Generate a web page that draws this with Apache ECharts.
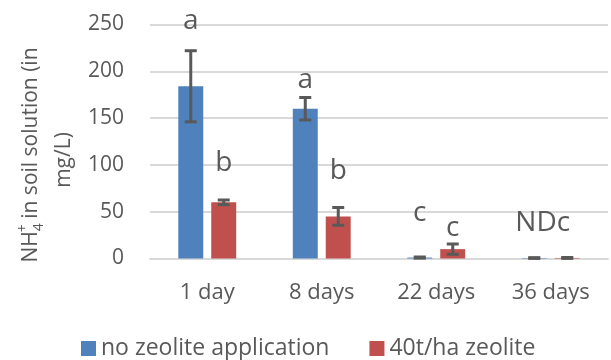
<!DOCTYPE html>
<html>
<head>
<meta charset="utf-8">
<script src="https://cdn.jsdelivr.net/npm/echarts@6/dist/echarts.min.js"></script>
<style>
  html, body { margin: 0; padding: 0; background: #ffffff; }
  #chart { width: 611px; height: 360px; }
</style>
</head>
<body>
<div id="chart"></div>
<script>
// Sampling days after application
const categories = ['1 day', '8 days', '22 days', '36 days'];

// Mean NH4+ concentration (mg/L) and standard error, per treatment
const noZeolite = [184, 160, 1, 0.5];
const noZeoliteErr = [38, 12, 0.6, 0.4];
const zeolite40 = [60, 45, 10, 0.6];
const zeolite40Err = [2.5, 9.5, 5.5, 0.5];

// Significance letters: [day index, treatment (-1 none, +1 40t/ha, 0 shared), level, text]
const letters = [
  [0, -1, 254, 'a'],
  [0, 1, 102, 'b'],
  [1, -1, 191, 'a'],
  [1, 1, 93, 'b'],
  [2, -1, 49, 'c'],
  [2, 1, 33, 'c'],
  [3, 0, 38, 'NDc']
];

const yTicks = { min: 0, max: 250, interval: 50 };

const FONT = '"Open Sans"';
const TEXT = '#595959';
const BLUE = '#4f81bd';
const RED = '#c0504d';
const BAR_FRAC = 0.218;   // bar width as share of category band
const SHIFT_FRAC = 0.144; // bar centre shift from band centre

function errorBarSeries(values, errs, dir) {
  return {
    type: 'custom',
    silent: true,
    z: 5,
    data: values.map((v, i) => [i, v - errs[i], v + errs[i]]),
    renderItem: function (params, api) {
      const band = api.size([1, 0])[0];
      const dx = dir * band * SHIFT_FRAC;
      const lo = api.coord([api.value(0), api.value(1)]);
      const hi = api.coord([api.value(0), api.value(2)]);
      const x = lo[0] + dx;
      const half = 6;
      const style = { stroke: '#595959', lineWidth: 3 };
      return {
        type: 'group',
        children: [
          { type: 'line', shape: { x1: x, y1: lo[1], x2: x, y2: hi[1] }, style: style },
          { type: 'line', shape: { x1: x - half, y1: lo[1], x2: x + half, y2: lo[1] }, style: style },
          { type: 'line', shape: { x1: x - half, y1: hi[1], x2: x + half, y2: hi[1] }, style: style }
        ]
      };
    }
  };
}

const chart = echarts.init(document.getElementById('chart'), null, { renderer: 'canvas' });

chart.setOption({
  animation: false,
  backgroundColor: '#ffffff',
  textStyle: { fontFamily: FONT, color: TEXT },
  grid: { left: 150, right: 3, top: 24.5, bottom: 101.5, containLabel: false },
  legend: {
    left: 76,
    top: 332,
    itemWidth: 15,
    itemHeight: 15,
    itemGap: 40,
    icon: 'rect',
    textStyle: { fontFamily: FONT, fontSize: 23, color: TEXT },
    data: ['no zeolite application', '40t/ha zeolite']
  },
  xAxis: {
    type: 'category',
    data: categories,
    axisLine: { show: true, lineStyle: { color: '#d9d9d9', width: 2 } },
    axisTick: { show: false },
    axisLabel: { fontFamily: FONT, fontSize: 22, color: TEXT, margin: 23 }
  },
  yAxis: {
    type: 'value',
    min: yTicks.min,
    max: yTicks.max,
    interval: yTicks.interval,
    axisLine: { show: false },
    axisTick: { show: false },
    axisLabel: { fontFamily: FONT, fontSize: 21, color: TEXT, margin: 26 },
    splitLine: { lineStyle: { color: '#d9d9d9', width: 2 } }
  },
  graphic: [
    {
      type: 'text',
      x: 31,
      y: 155,
      rotation: Math.PI / 2,
      style: {
        text: '{n|NH}{sub|4}{sup|+}{n| in soil solution (in}',
        align: 'center',
        verticalAlign: 'middle',
        fill: TEXT,
        rich: {
          n: { fontFamily: FONT, fontSize: 21, fill: TEXT, lineHeight: 30, verticalAlign: 'middle' },
          sub: { fontFamily: FONT, fontSize: 14, fill: TEXT, lineHeight: 30, verticalAlign: 'bottom' },
          sup: { fontFamily: FONT, fontSize: 14, fill: TEXT, lineHeight: 30, verticalAlign: 'top', padding: [0, 0, 0, -9] }
        }
      }
    },
    {
      type: 'text',
      x: 64,
      y: 160,
      rotation: Math.PI / 2,
      style: {
        text: 'mg/L)',
        align: 'center',
        verticalAlign: 'middle',
        fill: TEXT,
        font: '21px ' + FONT
      }
    }
  ],
  series: [
    {
      name: 'no zeolite application',
      type: 'bar',
      data: noZeolite,
      barWidth: (BAR_FRAC * 100) + '%',
      barGap: '32%',
      itemStyle: { color: BLUE }
    },
    {
      name: '40t/ha zeolite',
      type: 'bar',
      data: zeolite40,
      barWidth: (BAR_FRAC * 100) + '%',
      itemStyle: { color: RED }
    },
    errorBarSeries(noZeolite, noZeoliteErr, -1),
    errorBarSeries(zeolite40, zeolite40Err, 1),
    {
      type: 'custom',
      silent: true,
      clip: false,
      z: 6,
      data: letters,
      renderItem: function (params, api) {
        const band = api.size([1, 0])[0];
        const p = api.coord([api.value(0), api.value(2)]);
        const dir = api.value(1);
        const item = letters[params.dataIndex];
        return {
          type: 'text',
          x: p[0] + dir * band * SHIFT_FRAC - (dir === 0 ? 8 : 0),
          y: p[1],
          style: {
            text: item[3],
            align: 'center',
            verticalAlign: 'middle',
            fill: TEXT,
            font: '28px ' + FONT
          }
        };
      }
    }
  ]
});
</script>
</body>
</html>
